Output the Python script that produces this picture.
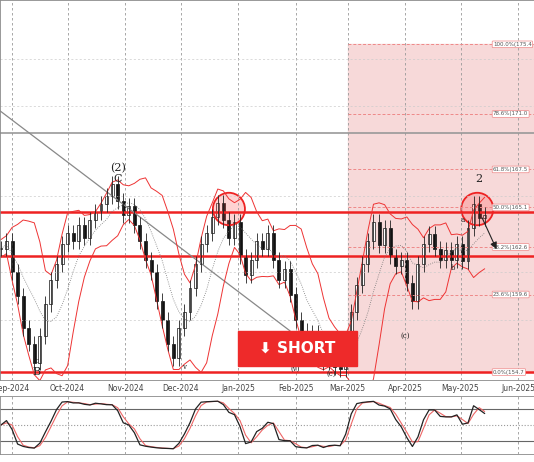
import numpy as np, pandas as pd, seaborn as sns, matplotlib
matplotlib.use("Agg")
import matplotlib.pyplot as plt
from matplotlib.patches import Rectangle, Ellipse

sns.set_style("white")
plt.rcParams['font.family'] = ['DejaVu Serif']

days = list(range(-6, 256, 3))
closes = [162.5,163,161,159.5,157.5,156.5,155.3,157,159,160.5,161.5,162.8,163.5,163.0,164,163.2,164.3,164.8,165.3,165.8,
          166.6,165.5,164.6,165.2,164,163,161.8,161,159.2,158,156.5,155.6,157.5,158.5,160,161.5,162.8,163.5,164.5,165.4,
          164.3,163.2,164.2,162,160.8,161.8,163,162.5,163.5,161.8,160.5,161.2,159.6,158,157.3,156.4,157.2,156,155.3,155.8,
          155.0,154.9,156.2,158.5,160.2,161.5,163,164.2,162.7,163.8,162,161.4,161.8,160.3,159.2,161.5,162.8,163.4,162.5,161.8,
          162.4,161.8,162.8,161.7,163.8,165.3,164.4,164.6]
days = days[:len(closes)]
month_days = [0,30,61,91,122,153,181,212,242,273]
month_labels = ["Sep-2024","Oct-2024","Nov-2024","Dec-2024","Jan-2025","Feb-2025","Mar-2025","Apr-2025","May-2025","Jun-2025"]
fib_levels = [175.4,171.0,167.5,165.1,162.6,159.6,154.7]
fib_labels = ["100.0%(175.4","78.6%(171.0","61.8%(167.5","50.0%(165.1","38.2%(162.6","23.6%(159.6","0.0%(154.7"]
red_levels = [164.8,162.0,154.7]

df = pd.DataFrame({"day": days, "close": closes})
df["open"] = df["close"].shift(1).fillna(df["close"])
df["high"] = df[["open","close"]].max(axis=1) + 0.5
df["low"] = df[["open","close"]].min(axis=1) - 0.5
df["mid"] = df["close"].rolling(7, min_periods=1).mean()
sd = df["close"].rolling(7, min_periods=2).std().bfill()
df["up"] = df["mid"] + 1.6*sd
df["dn"] = df["mid"] - 1.6*sd
lo = df["low"].rolling(8, min_periods=1).min(); hi = df["high"].rolling(8, min_periods=1).max()
df["k"] = (100*(df["close"]-lo)/(hi-lo)).rolling(2, min_periods=1).mean()
df["k2"] = df["k"].rolling(2, min_periods=1).mean()

fig = plt.figure(figsize=(5.34,4.62), dpi=100)
ax = fig.add_axes([0, 82/462, 1, 380/462])
ox = fig.add_axes([0, 8/462, 1, 58/462])
xl = (-6.5, 281.6)
ax.set_xlim(xl); ax.set_ylim(154.2, 178.2)
for d in month_days:
    ax.axvline(d, color="#999", ls=(0,(3,3)), lw=0.6); ox.axvline(d, color="#999", ls=(0,(3,3)), lw=0.6)
for y in [165.8,161.0,158.0,171.5,174.5]:
    ax.axhline(y, color="#ccc", ls=(0,(3,3)), lw=0.5)
ax.add_patch(Rectangle((181,154.7),110,20.7,color="#f7d9d9",zorder=0))
ax.axhline(169.8, color="#999", lw=1.2)
for lv, lb in zip(fib_levels, fib_labels):
    ax.plot([181,281.6],[lv,lv], color="#e88", ls=(0,(3,2)), lw=0.7)
    ax.text(259.5, lv, lb, fontsize=4.0, color="#555", va="center", family="DejaVu Sans",
            bbox=dict(boxstyle="round,pad=0.15", fc="white", ec="#e88", lw=0.5))
for lv in red_levels:
    ax.axhline(lv, color="#ee2222", lw=1.8)
ax.plot([-6.5,150],[171.2,157.3], color="#888", lw=0.9)
sns.lineplot(data=df, x="day", y="up", ax=ax, color="#e33", lw=0.7)
sns.lineplot(data=df, x="day", y="dn", ax=ax, color="#e33", lw=0.7)
sns.lineplot(data=df, x="day", y="mid", ax=ax, color="#777", lw=0.6, ls=":")
for _, r in df.iterrows():
    ax.vlines(r.day, r.low, r.high, color="#222", lw=0.6)
    fc = "white" if r.close >= r.open else "#111"
    ax.add_patch(Rectangle((r.day-0.8, min(r.open,r.close)), 1.6, max(abs(r.close-r.open),0.05), fc=fc, ec="#111", lw=0.5))
for cx in (117, 251):
    ax.add_patch(Ellipse((cx,165.0),17.3,2.05,fill=True,fc=(1,0.3,0.3,0.25),ec="#e22",lw=1.3))
ax.add_patch(Rectangle((122,155.1),64,2.2,color="#ee2a2a",zorder=5))
ax.text(154,156.2,"\u2b07 SHORT",color="white",fontsize=11,fontweight="bold",ha="center",va="center",zorder=6,family="DejaVu Sans")
ax.annotate("",xy=(262,162.3),xytext=(253,164.6),arrowprops=dict(arrowstyle="-|>",color="#222",lw=0.8))
for x,y,t,s in [(57,167.6,"(2)",8),(57,166.9,"C",8),(13,154.7,"B",8),(252,166.9,"2",8),(13,155.4,"c",5),
                (93,155.0,"v",5),(153,154.9,"(v)",5),(172,154.6,"(c)",5),(212,157.0,"(c)",5),(243,164.3,"a",5),(238,161.3,"b",5)]:
    ax.text(x,y,t,fontsize=s,ha="center",va="center",color="#222")
ax.set_xticks(month_days); ax.set_xticklabels(month_labels, fontsize=5.5, color="#444", family="DejaVu Sans")
ax.tick_params(axis="x", length=0, pad=3); ax.set_yticks([]); ax.set_xlabel(""); ax.set_ylabel("")
ox.set_xlim(xl); ox.set_ylim(-5,105)
for y,c,s in [(80,"#666","-"),(50,"#999",":"),(20,"#666","-")]:
    ox.axhline(y,color=c,ls=s,lw=0.8)
sns.lineplot(data=df,x="day",y="k2",ax=ox,color="#e66",lw=0.8)
sns.lineplot(data=df,x="day",y="k",ax=ox,color="#222",lw=0.9)
ox.set_xticks([]); ox.set_yticks([]); ox.set_xlabel(""); ox.set_ylabel("")
for a in (ax,ox):
    for sp in a.spines.values(): sp.set_color("#888"); sp.set_linewidth(0.6)
fig.savefig("out.png", dpi=100)
